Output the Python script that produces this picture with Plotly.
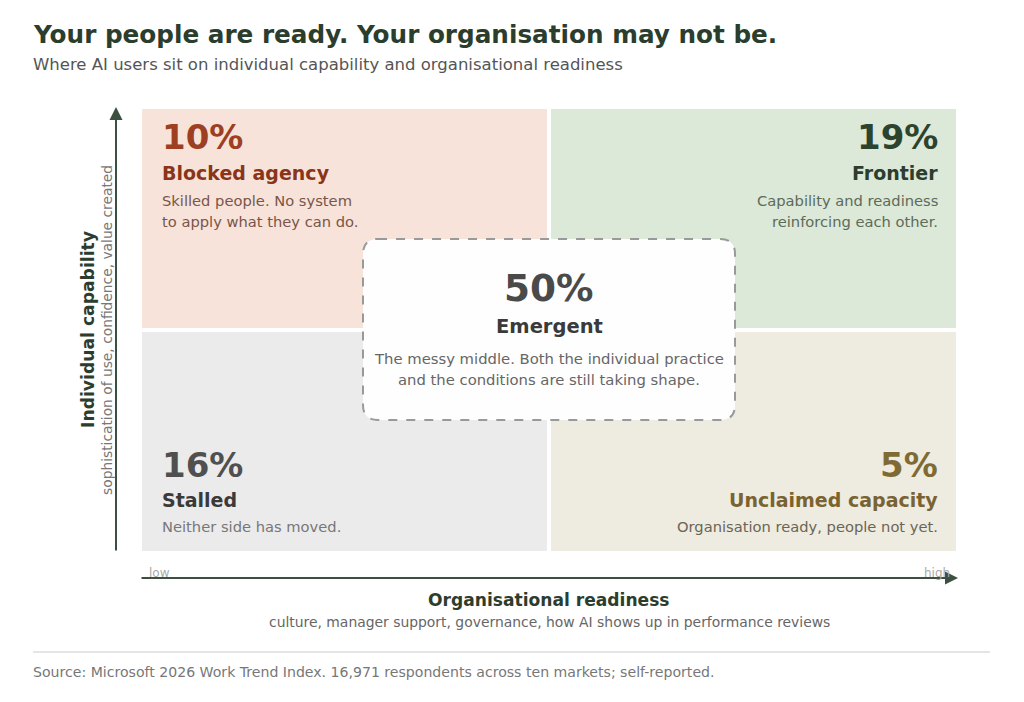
import plotly.graph_objects as go

# quadrant data: column = organisational readiness (0 low, 1 high), row = individual capability
quad_names = ["Blocked agency", "Frontier", "Stalled", "Unclaimed capacity"]
quad_share = [10, 19, 16, 5]
quad_col = [0, 1, 0, 1]
quad_row = [1, 1, 0, 0]
quad_desc = [
    ["Skilled people. No system", "to apply what they can do."],
    ["Capability and readiness", "reinforcing each other."],
    ["Neither side has moved."],
    ["Organisation ready, people not yet."],
]
center_name = "Emergent"
center_share = 50
center_desc = ["The messy middle. Both the individual practice",
               "and the conditions are still taking shape."]

title = "Your people are ready. Your organisation may not be."
subtitle = "Where AI users sit on individual capability and organisational readiness"
x_title = "Organisational readiness"
x_sub = "culture, manager support, governance, how AI shows up in performance reviews"
y_title = "Individual capability"
y_sub = "sophistication of use, confidence, value created"
source = "Source: Microsoft 2026 Work Trend Index. 16,971 respondents across ten markets; self-reported."

fills = ["#f7e3da", "#dce8d8", "#ebebeb", "#eeebe0"]
big_col = ["#9e3f22", "#2c432e", "#505050", "#7f6a34"]
name_col = ["#8a3519", "#2c3d2d", "#3a3a3a", "#7a6330"]
desc_col = ["#7a5548", "#5c6b5a", "#777777", "#6b6556"]

FONT = "DejaVu Sans"
OFF = 8  # page body margin
W, H = 1024 - OFF, 702 - OFF
L, R, T, B = 142, 956, 109, 551  # plot area in page pixels


def px(p):
    return (p - L) / (R - L)


def py(p):
    return (B - p) / (B - T)


fig = go.Figure()
fig.add_trace(go.Scatter(x=[0, 2], y=[0, 2], mode="markers",
                         marker=dict(opacity=0), hoverinfo="skip", showlegend=False))

shapes = []
ann = []
gx, gy = 0.005, 0.009
for i in range(4):
    c, r = quad_col[i], quad_row[i]
    shapes.append(dict(type="rect", xref="x", yref="y",
                       x0=c + (gx if c == 1 else 0), x1=c + 1 - (gx if c == 0 else 0),
                       y0=r + (gy if r == 1 else 0), y1=r + 1 - (gy if r == 0 else 0),
                       fillcolor=fills[i], line=dict(width=0), layer="below"))
    left = c == 0
    tx = c + (0.044 if left else 0.960)
    anch = "left" if left else "right"
    if r == 1:
        yb, yn, yd = r + 0.873, r + 0.710, [r + 0.584, r + 0.493]
    else:
        yb, yn, yd = r + 0.389, r + 0.231, [r + 0.113]
    ann.append(dict(x=tx, y=yb, text="<b>%d%%</b>" % quad_share[i], xanchor=anch, yanchor="middle",
                    font=dict(size=34, color=big_col[i], family=FONT)))
    ann.append(dict(x=tx, y=yn, text="<b>%s</b>" % quad_names[i], xanchor=anch, yanchor="middle",
                    font=dict(size=19, color=name_col[i], family=FONT)))
    for line, yy in zip(quad_desc[i], yd):
        ann.append(dict(x=tx, y=yy, text=line, xanchor=anch, yanchor="middle",
                        font=dict(size=14.7, color=desc_col[i], family=FONT)))

# centre box, rounded corners
x0, x1, y0, y1 = 0.543, 1.457, 0.593, 1.412
rx, ry = 0.037, 0.068
path = (f"M {x0+rx},{y1} L {x1-rx},{y1} Q {x1},{y1} {x1},{y1-ry} L {x1},{y0+ry} "
        f"Q {x1},{y0} {x1-rx},{y0} L {x0+rx},{y0} Q {x0},{y0} {x0},{y0+ry} "
        f"L {x0},{y1-ry} Q {x0},{y1} {x0+rx},{y1} Z")
shapes.append(dict(type="path", xref="x", yref="y", path=path, fillcolor="#fefefe",
                   line=dict(color="#999999", width=2, dash="dash")))
ann.append(dict(x=1, y=1.190, text="<b>%d%%</b>" % center_share, xanchor="center", yanchor="middle",
                font=dict(size=37.4, color="#4a4a4a", family=FONT)))
ann.append(dict(x=1, y=1.014, text="<b>%s</b>" % center_name, xanchor="center", yanchor="middle",
                font=dict(size=19.5, color="#3a3a3a", family=FONT)))
for line, yy in zip(center_desc, [0.873, 0.774]):
    ann.append(dict(x=1, y=yy, text=line, xanchor="center", yanchor="middle",
                    font=dict(size=14.8, color="#666666", family=FONT)))

# axis arrows
arrow_col = "#3b5040"
ann.append(dict(xref="paper", yref="paper", x=px(116), y=py(107), ax=0, ay=445, text="",
                showarrow=True, arrowhead=2, arrowsize=1.3, arrowwidth=2, arrowcolor=arrow_col,
                standoff=0, startstandoff=0))
ann.append(dict(xref="paper", yref="paper", x=px(958), y=py(578), ax=-818, ay=0, text="",
                showarrow=True, arrowhead=2, arrowsize=1.3, arrowwidth=2, arrowcolor=arrow_col,
                standoff=0, startstandoff=0))
ann.append(dict(xref="paper", yref="paper", x=px(147), y=py(573), text="low", xanchor="left",
                yanchor="middle", font=dict(size=12, color="#aaaaaa", family=FONT)))
ann.append(dict(xref="paper", yref="paper", x=px(952), y=py(573), text="high", xanchor="right",
                yanchor="middle", font=dict(size=12, color="#aaaaaa", family=FONT)))

# axis titles
ann.append(dict(xref="paper", yref="paper", x=px(549), y=py(600), text="<b>%s</b>" % x_title,
                xanchor="center", yanchor="middle", font=dict(size=17.1, color="#2c3d2d", family=FONT)))
ann.append(dict(xref="paper", yref="paper", x=px(549), y=py(622), text=x_sub,
                xanchor="center", yanchor="middle", font=dict(size=13.9, color="#666666", family=FONT)))
ann.append(dict(xref="paper", yref="paper", x=px(88), y=py(330), text="<b>%s</b>" % y_title,
                textangle=-90, xanchor="center", yanchor="middle",
                font=dict(size=17.2, color="#2c3d2d", family=FONT)))
ann.append(dict(xref="paper", yref="paper", x=px(107), y=py(330), text=y_sub,
                textangle=-90, xanchor="center", yanchor="middle",
                font=dict(size=13.8, color="#777777", family=FONT)))

# titles and source
ann.append(dict(xref="paper", yref="paper", x=px(31), y=py(35), text="<b>%s</b>" % title,
                xanchor="left", yanchor="middle", font=dict(size=24.7, color="#2b3d2c", family=FONT)))
ann.append(dict(xref="paper", yref="paper", x=px(31), y=py(65), text=subtitle,
                xanchor="left", yanchor="middle", font=dict(size=16.5, color="#555555", family=FONT)))
ann.append(dict(xref="paper", yref="paper", x=px(31), y=py(672), text=source,
                xanchor="left", yanchor="middle", font=dict(size=14.1, color="#777777", family=FONT)))
shapes.append(dict(type="line", xref="paper", yref="paper", x0=px(33), x1=px(990),
                   y0=py(652), y1=py(652), line=dict(color="#dddddd", width=1.5)))

for a in ann:
    a.setdefault("showarrow", False)

fig.update_layout(
    width=W, height=H,
    margin=dict(l=L - OFF, r=W - (R - OFF), t=T - OFF, b=H - (B - OFF)),
    paper_bgcolor="white", plot_bgcolor="white",
    xaxis=dict(range=[0, 2], visible=False, fixedrange=True),
    yaxis=dict(range=[0, 2], visible=False, fixedrange=True),
    shapes=shapes, annotations=ann, showlegend=False,
    font=dict(family=FONT),
)
fig.write_html("out.html", config={"displayModeBar": False})
